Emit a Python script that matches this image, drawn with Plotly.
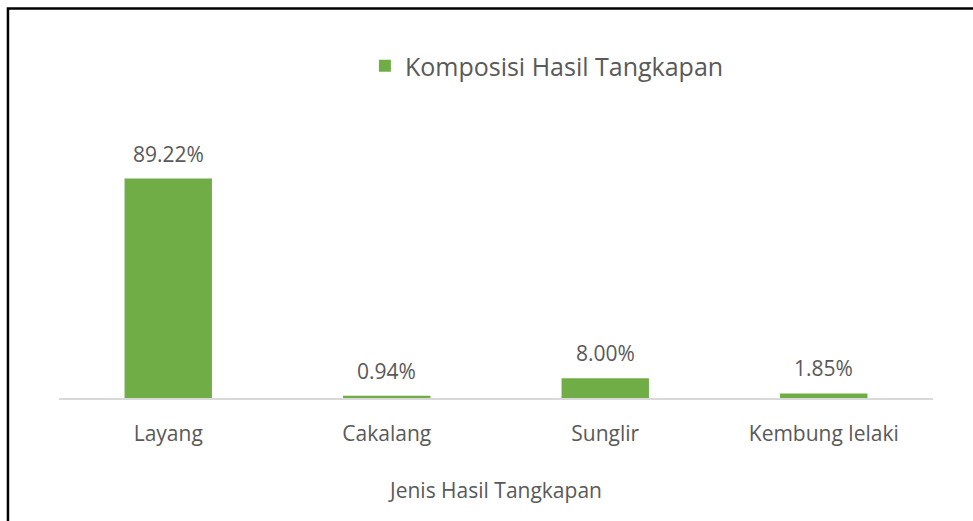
import plotly.graph_objects as go

categories = ["Layang", "Cakalang", "Sunglir", "Kembung lelaki"]
values = [89.22, 0.94, 8.00, 1.85]
labels = ["89.22%", "0.94%", "8.00%", "1.85%"]
series_name = "Komposisi Hasil Tangkapan"
x_title = "Jenis Hasil Tangkapan"

FONT = "Open Sans, Calibri, Carlito, sans-serif"
GREY = "#595959"
GREEN = "#70AD47"

fig = go.Figure()
fig.add_trace(go.Bar(
    x=categories, y=values, name=series_name,
    marker=dict(color=GREEN, line=dict(width=0)),
    width=0.4, showlegend=True,
))

for c, v, t in zip(categories, values, labels):
    fig.add_annotation(x=c, y=v, text=t, showarrow=False, yanchor="bottom",
                       yshift=9, font=dict(family=FONT, size=21, color=GREY))

fig.update_layout(
    width=973, height=521,
    paper_bgcolor="white", plot_bgcolor="white",
    margin=dict(l=59, r=40, t=152, b=123),
    font=dict(family=FONT, color=GREY),
    showlegend=True,
    legend=dict(orientation="h", x=0.35, xanchor="left", y=1 - 66 / 521,
                yref="container", yanchor="middle",
                font=dict(size=25, color=GREY)),
    xaxis=dict(showline=True, linecolor="#d9d9d9", linewidth=1.5, ticks="",
               tickfont=dict(size=21, color=GREY), showgrid=False,
               ticklabelstandoff=16,
               title=dict(text=x_title, font=dict(size=21, color=GREY), standoff=37)),
    yaxis=dict(range=[0, 100], visible=False, showgrid=False),
)

# outer frame (clipped at right/bottom like the reference)
fig.add_shape(type="rect", xref="paper", yref="paper",
              x0=-0.0584, x1=1.3, y0=-0.8, y1=1.583,
              line=dict(color="black", width=2.5), layer="above")

fig.write_html("out.html", config={"displayModeBar": False},
               post_script="document.body.style.margin='0';document.body.style.overflow='hidden';")
